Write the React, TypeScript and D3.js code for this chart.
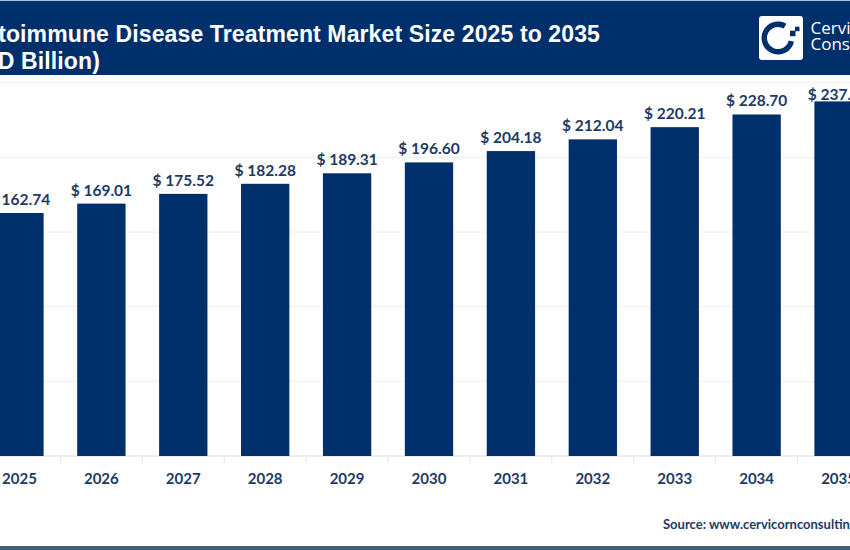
import { useRef, useEffect } from "react";
import * as d3 from "d3";

const years = ["2025", "2026", "2027", "2028", "2029", "2030", "2031", "2032", "2033", "2034", "2035"];
const values = [162.74, 169.01, 175.52, 182.28, 189.31, 196.6, 204.18, 212.04, 220.21, 228.7, 237.46];
const yTicks = [0, 50, 100, 150, 200, 250];
const titleLines = ["Autoimmune Disease Treatment Market Size 2025 to 2035", "(USD Billion)"];
const sourceText = "Source: www.cervicornconsulting.com";

const NAVY = "#00306b";
const INK = "#1d3a66";

export default function App() {
  const svgRef = useRef<SVGSVGElement>(null);

  useEffect(() => {
    if (!svgRef.current) return;
    const svg = d3.select(svgRef.current);
    svg.selectAll("*").remove();
    svg.attr("viewBox", "0 0 850 550");

    svg.append("rect").attr("width", 850).attr("height", 550).attr("fill", "#fff");

    const x = d3
      .scaleBand()
      .domain(years)
      .range([-21.5, 879.5])
      .paddingInner(0.41)
      .paddingOuter(0.205);

    const y = d3.scaleLinear().domain([0, 300]).range([456, 8]);

    // gridlines
    svg
      .selectAll(".grid")
      .data(yTicks.slice(1))
      .join("line")
      .attr("x1", 0)
      .attr("x2", 850)
      .attr("y1", (d) => y(d))
      .attr("y2", (d) => y(d))
      .attr("stroke", "#eeeeee")
      .attr("stroke-width", 1);

    // axis line, ticks sit between the bars
    svg
      .append("line")
      .attr("x1", 0)
      .attr("x2", 850)
      .attr("y1", y(0))
      .attr("y2", y(0))
      .attr("stroke", "#d9d9d9")
      .attr("stroke-width", 1);

    const step = x.step();
    svg
      .selectAll(".tick-mark")
      .data(years)
      .join("line")
      .attr("x1", (d) => x(d)! + x.bandwidth() + (step - x.bandwidth()) / 2)
      .attr("x2", (d) => x(d)! + x.bandwidth() + (step - x.bandwidth()) / 2)
      .attr("y1", y(0))
      .attr("y2", y(0) + 7)
      .attr("stroke", "#e4e4e4");

    svg
      .selectAll(".bar")
      .data(years)
      .join("rect")
      .attr("x", (d) => x(d)!)
      .attr("y", (_, i) => y(values[i]))
      .attr("width", x.bandwidth())
      .attr("height", (_, i) => y(0) - y(values[i]))
      .attr("fill", NAVY);

    svg
      .selectAll(".bar-label")
      .data(years)
      .join("text")
      .attr("x", (d) => x(d)! + x.bandwidth() / 2)
      .attr("y", (d, i) => y(values[i]) - (d === "2035" ? 1 : 8))
      .attr("text-anchor", "middle")
      .attr("fill", INK)
      .style("font-family", "Lato")
      .style("font-weight", "700")
      .style("font-size", "15.5px")
      .text((_, i) => `$ ${values[i].toFixed(2)}`);

    svg
      .selectAll(".year-label")
      .data(years)
      .join("text")
      .attr("x", (d) => x(d)! + x.bandwidth() / 2)
      .attr("y", 484)
      .attr("text-anchor", "middle")
      .attr("fill", INK)
      .style("font-family", "Lato")
      .style("font-weight", "700")
      .style("font-size", "15px")
      .text((d) => d);

    // header band
    svg.append("rect").attr("width", 850).attr("height", 75).attr("fill", NAVY);
    svg.append("rect").attr("width", 850).attr("height", 1).attr("fill", "#a9c3dc");

    svg
      .selectAll(".title")
      .data(titleLines)
      .join("text")
      .attr("x", (_, i) => (i === 0 ? 600 : 100))
      .attr("y", (_, i) => 42 + i * 27)
      .attr("text-anchor", "end")
      .attr("fill", "#fff")
      .style("font-family", "Liberation Sans")
      .style("font-weight", "700")
      .style("font-size", "23px")
      .style("letter-spacing", "0.12px")
      .text((d) => d);

    // logo
    const logo = svg.append("g").attr("transform", "translate(759,16)");
    logo.append("rect").attr("width", 44).attr("height", 44).attr("rx", 3).attr("fill", "#fff");
    const arc = d3.arc().innerRadius(11).outerRadius(16.5).startAngle(1.8).endAngle(6.82);
    logo
      .append("path")
      .attr("transform", "translate(19,22)")
      .attr("d", arc({} as any))
      .attr("fill", NAVY);
    logo.append("rect").attr("x", 36).attr("y", 10.7).attr("width", 4.5).attr("height", 4.5).attr("fill", NAVY);
    logo.append("rect").attr("x", 31).attr("y", 14.7).attr("width", 5.5).attr("height", 5.5).attr("fill", NAVY);

    svg
      .selectAll(".brand")
      .data(["Cervicorn", "Consulting"])
      .join("text")
      .attr("x", 810.5)
      .attr("y", (_, i) => 33.5 + i * 16.5)
      .attr("fill", "#fff")
      .style("font-family", "Open Sans")
      .style("font-size", "17px")
      .text((d) => d);

    svg
      .append("text")
      .attr("x", 663)
      .attr("y", 529)
      .attr("fill", INK)
      .style("font-family", "Lato")
      .style("font-weight", "700")
      .style("font-size", "13px")
      .text(sourceText);

    svg.append("rect").attr("y", 546).attr("width", 850).attr("height", 4).attr("fill", "#3f5f78");
  }, []);

  return (
    <svg
      ref={svgRef}
      width={850}
      height={550}
      style={{ position: "absolute", left: 0, top: 0, display: "block" }}
    />
  );
}
